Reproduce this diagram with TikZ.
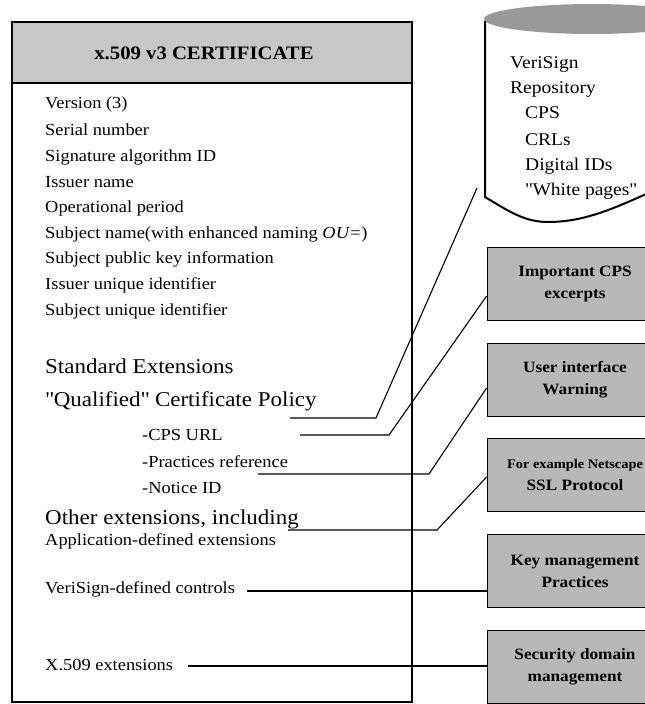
\documentclass[tikz,border=0pt]{standalone}
\usepackage{fontspec}
\setmainfont{Liberation Serif}[FakeStretch=1.09]
\begin{document}
\begin{tikzpicture}[x=1pt,y=-1pt,
  txt/.style={inner sep=0pt, anchor=base west, font=\fontsize{16.9}{19}\selectfont},
  bigtxt/.style={inner sep=0pt, anchor=base west, font=\fontsize{21.1}{24}\selectfont},
  cyltxt/.style={inner sep=0pt, anchor=base west, font=\fontsize{17.9}{20}\selectfont},
  rbox/.style={draw, line width=0.8pt, fill=black!28, minimum width=176pt, minimum height=73pt,
    align=center, font=\bfseries\fontsize{15.8}{22}\selectfont, inner sep=2pt},
  conn/.style={line width=1.1pt},
  ]
\useasboundingbox (0,0) rectangle (645,704);
\clip (0,0) rectangle (645,704);
% main certificate box
\fill[black!22] (12,22) rectangle (412,83);
\draw[line width=1.6pt] (12,83) -- (412,83);
\draw[line width=2.6pt] (12,22) rectangle (412,702);
\node[font=\bfseries\fontsize{19}{21}\selectfont, inner sep=0pt] (hdr) at (204,53) {x.509 v3 CERTIFICATE};
\node[txt] (t1) at (45,108) {Version (3)};
\node[txt] (t2) at (45,135) {Serial number};
\node[txt] (t3) at (45,161) {Signature algorithm ID};
\node[txt] (t4) at (45,187) {Issuer name};
\node[txt] (t5) at (45,212) {Operational period};
\node[txt] (t6) at (45,238) {Subject name(with enhanced naming \textit{OU=})};
\node[txt] (t7) at (45,263) {Subject public key information};
\node[txt] (t8) at (45,289) {Issuer unique identifier};
\node[txt] (t9) at (45,315) {Subject unique identifier};
\node[bigtxt] (s1) at (45,373.5) {Standard Extensions};
\node[bigtxt] (s2) at (45,406.5) {\textquotedbl Qualified\textquotedbl{} Certificate Policy};
\node[txt] (s3) at (142,440) {-CPS URL};
\node[txt] (s4) at (142,467) {-Practices reference};
\node[txt] (s5) at (142,493) {-Notice ID};
\node[bigtxt] (o1) at (45,524.5) {Other extensions, including};
\node[txt] (o2) at (45,545) {Application-defined extensions};
\node[txt] (o3) at (45,593) {VeriSign-defined controls};
\node[txt] (o4) at (45,670) {X.509 extensions};
% repository cylinder
\fill[black!40] (592,19) ellipse [x radius=108, y radius=15];
\draw[line width=2pt] (485,21) -- (485,197) .. controls (510,212) and (525,222) .. (548,222)
  .. controls (585,222) and (615,208) .. (655,190);
\node[cyltxt] (r1) at (510,68.5) {VeriSign};
\node[cyltxt] (r2) at (510,93.5) {Repository};
\node[cyltxt] (r3) at (525,118.5) {CPS};
\node[cyltxt] (r4) at (525,145.5) {CRLs};
\node[cyltxt] (r5) at (525,170.5) {Digital IDs};
\node[cyltxt] (r6) at (525,195.5) {\textquotedbl White pages\textquotedbl};
\coordinate (cylend) at (477,188);
% right boxes
\node[rbox] (b1) at (575,283.5) {Important CPS\\excerpts};
\node[rbox] (b2) at (575,379.5) {User interface\\Warning};
\node[rbox, font=\bfseries\fontsize{13.2}{22}\selectfont] (b3) at (575,475) {For example Netscape\\\fontsize{15.8}{22}\selectfont SSL Protocol};
\node[rbox] (b4) at (575,571) {Key management\\Practices};
\node[rbox] (b5) at (575,667) {Security domain\\management};
% connectors
\coordinate (a1) at (290,418); \coordinate (k1) at (376,418);
\coordinate (a2) at (300,435); \coordinate (k2) at (389,435);
\coordinate (a3) at (258,474); \coordinate (k3) at (429,474);
\coordinate (a4) at (288,530); \coordinate (k4) at (437,530);
\coordinate (a5) at (247,591);
\coordinate (a6) at (188,666);
\draw[conn] (a1) -- (k1) -- (cylend);
\draw[conn] (a2) -- (k2) -- (b1.west |- {(0,296)});
\draw[conn] (a3) -- (k3) -- (b2.west |- {(0,388)});
\draw[conn] (a4) -- (k4) -- (b3.west |- {(0,477)});
\draw[conn] (a5) -- (b4.west |- a5);
\draw[conn] (a6) -- (b5.west |- a6);
\end{tikzpicture}
\end{document}
